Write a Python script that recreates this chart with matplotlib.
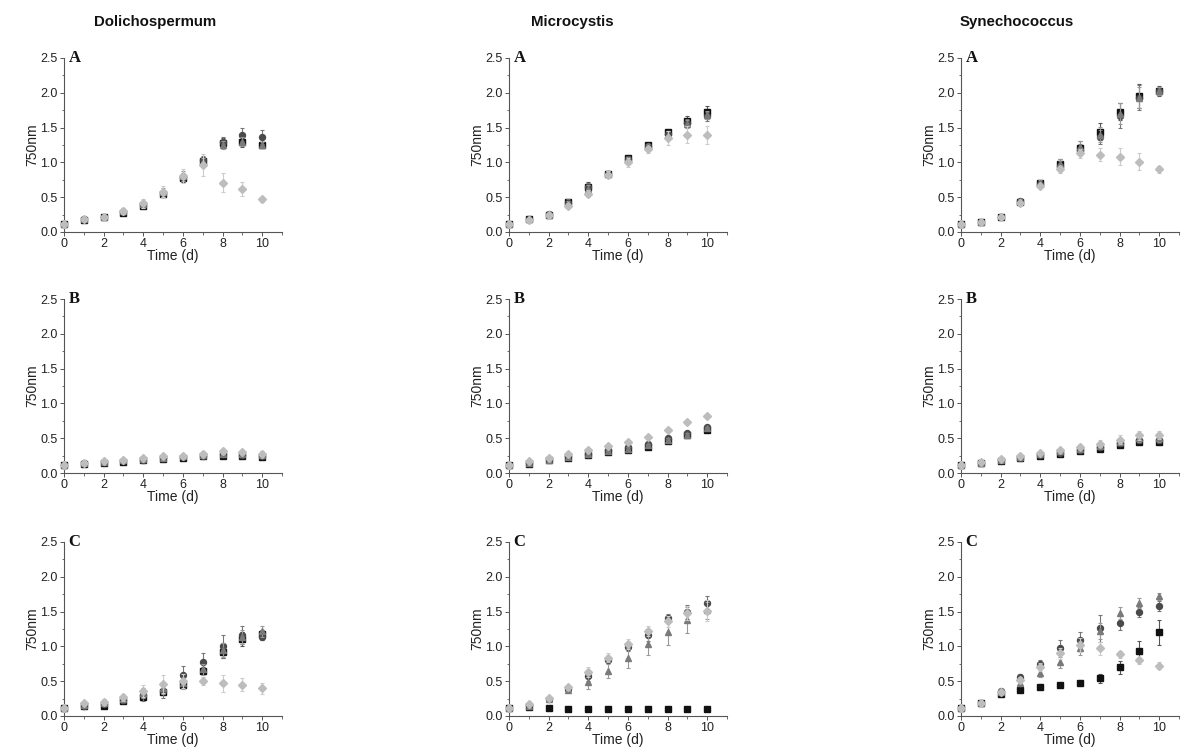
import matplotlib
matplotlib.use('Agg')
import matplotlib.pyplot as plt
from matplotlib.ticker import MultipleLocator

plt.rcParams['font.family'] = ['Liberation Sans', 'DejaVu Sans']

days = [0, 1, 2, 3, 4, 5, 6, 7, 8, 9, 10]

# ---- Dolichospermum ----
dol_A_sq = [0.12, 0.17, 0.21, 0.28, 0.38, 0.55, 0.77, 1.02, 1.28, 1.30, 1.25]
dol_A_ci = [0.12, 0.18, 0.21, 0.29, 0.39, 0.56, 0.79, 1.03, 1.30, 1.40, 1.37]
dol_A_tr = [0.12, 0.18, 0.22, 0.30, 0.40, 0.57, 0.80, 1.00, 1.25, 1.30, 1.25]
dol_A_di = [0.12, 0.18, 0.22, 0.30, 0.41, 0.58, 0.81, 0.96, 0.71, 0.62, 0.47]
dol_A_sq_err = [0, 0.02, 0.02, 0.03, 0.03, 0.04, 0.05, 0.05, 0.07, 0.08, 0.05]
dol_A_ci_err = [0, 0.02, 0.02, 0.03, 0.04, 0.05, 0.06, 0.06, 0.06, 0.09, 0.10]
dol_A_tr_err = [0, 0.02, 0.02, 0.04, 0.05, 0.06, 0.07, 0.06, 0.06, 0.07, 0.05]
dol_A_di_err = [0, 0.02, 0.03, 0.04, 0.06, 0.08, 0.10, 0.16, 0.14, 0.10, 0.04]

dol_B_sq = [0.12, 0.13, 0.15, 0.16, 0.18, 0.20, 0.22, 0.24, 0.25, 0.25, 0.23]
dol_B_ci = [0.12, 0.14, 0.16, 0.17, 0.19, 0.21, 0.23, 0.25, 0.27, 0.26, 0.25]
dol_B_tr = [0.12, 0.14, 0.16, 0.18, 0.20, 0.22, 0.24, 0.26, 0.28, 0.27, 0.26]
dol_B_di = [0.12, 0.15, 0.17, 0.19, 0.22, 0.24, 0.25, 0.28, 0.31, 0.30, 0.28]
dol_B_sq_err = [0, 0.01, 0.01, 0.01, 0.02, 0.02, 0.02, 0.02, 0.02, 0.02, 0.02]
dol_B_ci_err = [0, 0.01, 0.01, 0.02, 0.02, 0.02, 0.02, 0.02, 0.03, 0.03, 0.03]
dol_B_tr_err = [0, 0.01, 0.02, 0.02, 0.02, 0.02, 0.03, 0.03, 0.03, 0.03, 0.03]
dol_B_di_err = [0, 0.01, 0.02, 0.02, 0.02, 0.03, 0.03, 0.03, 0.03, 0.03, 0.03]

dol_C_sq = [0.12, 0.14, 0.15, 0.21, 0.27, 0.34, 0.44, 0.65, 0.92, 1.10, 1.18]
dol_C_ci = [0.12, 0.15, 0.17, 0.23, 0.30, 0.36, 0.59, 0.77, 1.00, 1.17, 1.14]
dol_C_tr = [0.12, 0.16, 0.18, 0.25, 0.33, 0.40, 0.47, 0.67, 0.95, 1.13, 1.22]
dol_C_di = [0.12, 0.18, 0.20, 0.27, 0.36, 0.46, 0.50, 0.50, 0.47, 0.45, 0.40]
dol_C_sq_err = [0, 0.02, 0.02, 0.03, 0.04, 0.03, 0.04, 0.05, 0.08, 0.10, 0.05]
dol_C_ci_err = [0, 0.02, 0.03, 0.05, 0.08, 0.10, 0.13, 0.13, 0.16, 0.13, 0.05]
dol_C_tr_err = [0, 0.02, 0.03, 0.05, 0.07, 0.08, 0.08, 0.08, 0.10, 0.10, 0.08]
dol_C_di_err = [0, 0.02, 0.04, 0.05, 0.08, 0.13, 0.10, 0.06, 0.12, 0.09, 0.08]

# ---- Microcystis ----
mic_A_sq = [0.12, 0.18, 0.25, 0.43, 0.65, 0.84, 1.07, 1.25, 1.44, 1.60, 1.73]
mic_A_ci = [0.12, 0.18, 0.26, 0.42, 0.64, 0.84, 1.05, 1.24, 1.41, 1.57, 1.66]
mic_A_tr = [0.12, 0.18, 0.25, 0.40, 0.62, 0.83, 1.04, 1.23, 1.40, 1.55, 1.68]
mic_A_di = [0.12, 0.17, 0.25, 0.38, 0.55, 0.82, 1.00, 1.19, 1.35, 1.40, 1.40]
mic_A_sq_err = [0, 0.02, 0.02, 0.05, 0.07, 0.04, 0.04, 0.03, 0.03, 0.06, 0.08]
mic_A_ci_err = [0, 0.02, 0.02, 0.05, 0.06, 0.04, 0.04, 0.03, 0.04, 0.06, 0.07]
mic_A_tr_err = [0, 0.02, 0.02, 0.05, 0.06, 0.04, 0.04, 0.03, 0.05, 0.06, 0.06]
mic_A_di_err = [0, 0.02, 0.02, 0.04, 0.05, 0.05, 0.06, 0.05, 0.10, 0.12, 0.13]

mic_B_sq = [0.12, 0.13, 0.18, 0.22, 0.26, 0.30, 0.33, 0.38, 0.46, 0.54, 0.62]
mic_B_ci = [0.12, 0.15, 0.20, 0.24, 0.28, 0.33, 0.37, 0.42, 0.50, 0.57, 0.66]
mic_B_tr = [0.12, 0.14, 0.19, 0.23, 0.27, 0.31, 0.35, 0.40, 0.48, 0.55, 0.64]
mic_B_di = [0.12, 0.17, 0.22, 0.27, 0.33, 0.39, 0.45, 0.52, 0.62, 0.73, 0.82]
mic_B_sq_err = [0, 0.01, 0.01, 0.01, 0.01, 0.02, 0.02, 0.02, 0.02, 0.02, 0.02]
mic_B_ci_err = [0, 0.01, 0.01, 0.01, 0.02, 0.02, 0.02, 0.02, 0.02, 0.02, 0.02]
mic_B_tr_err = [0, 0.01, 0.01, 0.01, 0.02, 0.02, 0.02, 0.02, 0.02, 0.02, 0.02]
mic_B_di_err = [0, 0.01, 0.01, 0.01, 0.01, 0.01, 0.01, 0.01, 0.01, 0.01, 0.01]

mic_C_sq = [0.12, 0.13, 0.11, 0.10, 0.10, 0.10, 0.10, 0.10, 0.10, 0.10, 0.10]
mic_C_ci = [0.12, 0.16, 0.25, 0.39, 0.57, 0.81, 0.99, 1.16, 1.41, 1.50, 1.63]
mic_C_tr = [0.12, 0.15, 0.25, 0.38, 0.49, 0.65, 0.83, 1.04, 1.20, 1.38, 1.52]
mic_C_di = [0.12, 0.17, 0.26, 0.41, 0.63, 0.84, 1.03, 1.22, 1.36, 1.48, 1.51]
mic_C_sq_err = [0, 0.01, 0.01, 0.01, 0.01, 0.01, 0.01, 0.01, 0.01, 0.01, 0.01]
mic_C_ci_err = [0, 0.02, 0.02, 0.03, 0.06, 0.05, 0.06, 0.08, 0.06, 0.10, 0.10]
mic_C_tr_err = [0, 0.02, 0.02, 0.03, 0.10, 0.10, 0.14, 0.16, 0.18, 0.19, 0.12]
mic_C_di_err = [0, 0.02, 0.02, 0.03, 0.07, 0.06, 0.07, 0.07, 0.08, 0.10, 0.15]

# ---- Synechococcus ----
syn_A_sq = [0.11, 0.15, 0.22, 0.43, 0.70, 0.97, 1.21, 1.44, 1.73, 1.95, 2.03]
syn_A_ci = [0.11, 0.15, 0.22, 0.44, 0.69, 0.95, 1.18, 1.37, 1.67, 1.93, 2.02]
syn_A_tr = [0.11, 0.15, 0.23, 0.45, 0.71, 0.98, 1.22, 1.40, 1.70, 1.93, 2.03]
syn_A_di = [0.11, 0.15, 0.22, 0.42, 0.66, 0.90, 1.13, 1.11, 1.08, 1.01, 0.90]
syn_A_sq_err = [0, 0.01, 0.02, 0.03, 0.04, 0.08, 0.10, 0.12, 0.12, 0.17, 0.07]
syn_A_ci_err = [0, 0.01, 0.02, 0.03, 0.04, 0.07, 0.08, 0.10, 0.18, 0.18, 0.05]
syn_A_tr_err = [0, 0.01, 0.02, 0.03, 0.04, 0.07, 0.09, 0.11, 0.15, 0.15, 0.06]
syn_A_di_err = [0, 0.01, 0.02, 0.02, 0.03, 0.05, 0.06, 0.09, 0.12, 0.12, 0.05]

syn_B_sq = [0.11, 0.14, 0.17, 0.21, 0.24, 0.27, 0.31, 0.34, 0.40, 0.45, 0.45]
syn_B_ci = [0.11, 0.15, 0.18, 0.22, 0.26, 0.29, 0.33, 0.37, 0.43, 0.47, 0.47]
syn_B_tr = [0.11, 0.15, 0.19, 0.23, 0.27, 0.31, 0.35, 0.39, 0.45, 0.50, 0.50]
syn_B_di = [0.11, 0.16, 0.20, 0.25, 0.29, 0.33, 0.38, 0.42, 0.48, 0.54, 0.55]
syn_B_sq_err = [0, 0.01, 0.01, 0.01, 0.02, 0.02, 0.02, 0.02, 0.02, 0.03, 0.03]
syn_B_ci_err = [0, 0.01, 0.01, 0.02, 0.02, 0.02, 0.03, 0.03, 0.04, 0.04, 0.04]
syn_B_tr_err = [0, 0.01, 0.01, 0.02, 0.02, 0.03, 0.03, 0.04, 0.05, 0.05, 0.05]
syn_B_di_err = [0, 0.01, 0.02, 0.02, 0.03, 0.03, 0.04, 0.05, 0.06, 0.06, 0.06]

syn_C_sq = [0.11, 0.18, 0.31, 0.37, 0.41, 0.45, 0.48, 0.54, 0.70, 0.93, 1.20]
syn_C_ci = [0.11, 0.18, 0.36, 0.56, 0.75, 0.98, 1.09, 1.26, 1.34, 1.49, 1.58]
syn_C_tr = [0.11, 0.18, 0.34, 0.47, 0.62, 0.77, 0.98, 1.22, 1.48, 1.62, 1.72]
syn_C_di = [0.11, 0.18, 0.35, 0.52, 0.70, 0.90, 1.02, 0.97, 0.89, 0.80, 0.72]
syn_C_sq_err = [0, 0.01, 0.02, 0.02, 0.02, 0.03, 0.04, 0.07, 0.09, 0.15, 0.18]
syn_C_ci_err = [0, 0.01, 0.03, 0.04, 0.06, 0.11, 0.12, 0.19, 0.11, 0.07, 0.07]
syn_C_tr_err = [0, 0.01, 0.03, 0.04, 0.06, 0.08, 0.10, 0.12, 0.09, 0.07, 0.05]
syn_C_di_err = [0, 0.01, 0.03, 0.04, 0.06, 0.08, 0.10, 0.09, 0.05, 0.05, 0.05]

genera = ['Dolichospermum', 'Microcystis', 'Synechococcus']
panel_letters = ['A', 'B', 'C']

panels = {
    (0, 0): [(dol_A_sq, dol_A_sq_err), (dol_A_ci, dol_A_ci_err), (dol_A_tr, dol_A_tr_err), (dol_A_di, dol_A_di_err)],
    (1, 0): [(dol_B_sq, dol_B_sq_err), (dol_B_ci, dol_B_ci_err), (dol_B_tr, dol_B_tr_err), (dol_B_di, dol_B_di_err)],
    (2, 0): [(dol_C_sq, dol_C_sq_err), (dol_C_ci, dol_C_ci_err), (dol_C_tr, dol_C_tr_err), (dol_C_di, dol_C_di_err)],
    (0, 1): [(mic_A_sq, mic_A_sq_err), (mic_A_ci, mic_A_ci_err), (mic_A_tr, mic_A_tr_err), (mic_A_di, mic_A_di_err)],
    (1, 1): [(mic_B_sq, mic_B_sq_err), (mic_B_ci, mic_B_ci_err), (mic_B_tr, mic_B_tr_err), (mic_B_di, mic_B_di_err)],
    (2, 1): [(mic_C_sq, mic_C_sq_err), (mic_C_ci, mic_C_ci_err), (mic_C_tr, mic_C_tr_err), (mic_C_di, mic_C_di_err)],
    (0, 2): [(syn_A_sq, syn_A_sq_err), (syn_A_ci, syn_A_ci_err), (syn_A_tr, syn_A_tr_err), (syn_A_di, syn_A_di_err)],
    (1, 2): [(syn_B_sq, syn_B_sq_err), (syn_B_ci, syn_B_ci_err), (syn_B_tr, syn_B_tr_err), (syn_B_di, syn_B_di_err)],
    (2, 2): [(syn_C_sq, syn_C_sq_err), (syn_C_ci, syn_C_ci_err), (syn_C_tr, syn_C_tr_err), (syn_C_di, syn_C_di_err)],
}

markers = ['s', 'o', '^', 'D']
mcolors = ['#111111', '#4a4a4a', '#7a7a7a', '#bdbdbd']
ecolors = ['#555555', '#777777', '#999999', '#cccccc']
msizes = [4.3, 4.3, 4.3, 3.7]

W, H = 1181, 751
fig = plt.figure(figsize=(W / 100, H / 100), dpi=100)

col_left = [64, 509, 961]
row_top = [58, 299, 542]
ax_w, ax_h = 218, 174

title_x = [155, 572, 1017]
for c, name in enumerate(genera):
    fig.text(title_x[c] / W, 1 - 22 / H, name, ha='center', va='center',
             fontsize=10.8, fontweight='bold', color='#111111')

for (r, c), series in panels.items():
    ax = fig.add_axes([col_left[c] / W, 1 - (row_top[r] + ax_h) / H, ax_w / W, ax_h / H])
    for i, (vals, errs) in enumerate(series):
        ax.errorbar(days, vals, yerr=errs, fmt=markers[i], color=mcolors[i],
                    ecolor=ecolors[i], elinewidth=0.8, capsize=1.5, capthick=0.8,
                    ms=msizes[i], mec=mcolors[i], zorder=3 + i, clip_on=False)
    ax.set_xlim(0, 11)
    ax.set_ylim(0, 2.5)
    ax.xaxis.set_major_locator(MultipleLocator(2))
    ax.xaxis.set_minor_locator(MultipleLocator(1))
    ax.yaxis.set_major_locator(MultipleLocator(0.5))
    ax.yaxis.set_minor_locator(MultipleLocator(0.25))
    ax.yaxis.set_major_formatter(plt.FormatStrFormatter('%.1f'))
    for s in ['top', 'right']:
        ax.spines[s].set_visible(False)
    for s in ['left', 'bottom']:
        ax.spines[s].set_color('#555555')
        ax.spines[s].set_linewidth(0.8)
    ax.tick_params(which='major', direction='out', length=3, width=0.7,
                   colors='#555555', labelcolor='#222222', labelsize=9, pad=1.5)
    ax.tick_params(which='minor', direction='out', length=1.8, width=0.6, colors='#555555')
    ax.set_xlabel('Time (d)', fontsize=10, color='#222222', labelpad=-1)
    ax.set_ylabel('750nm', fontsize=10, color='#222222', labelpad=1)
    ax.text(0.02, 1.0, panel_letters[r], transform=ax.transAxes, ha='left', va='center',
            fontsize=12, fontweight='bold', family='Liberation Serif', color='#111111')

fig.savefig('out.png', dpi=100)
